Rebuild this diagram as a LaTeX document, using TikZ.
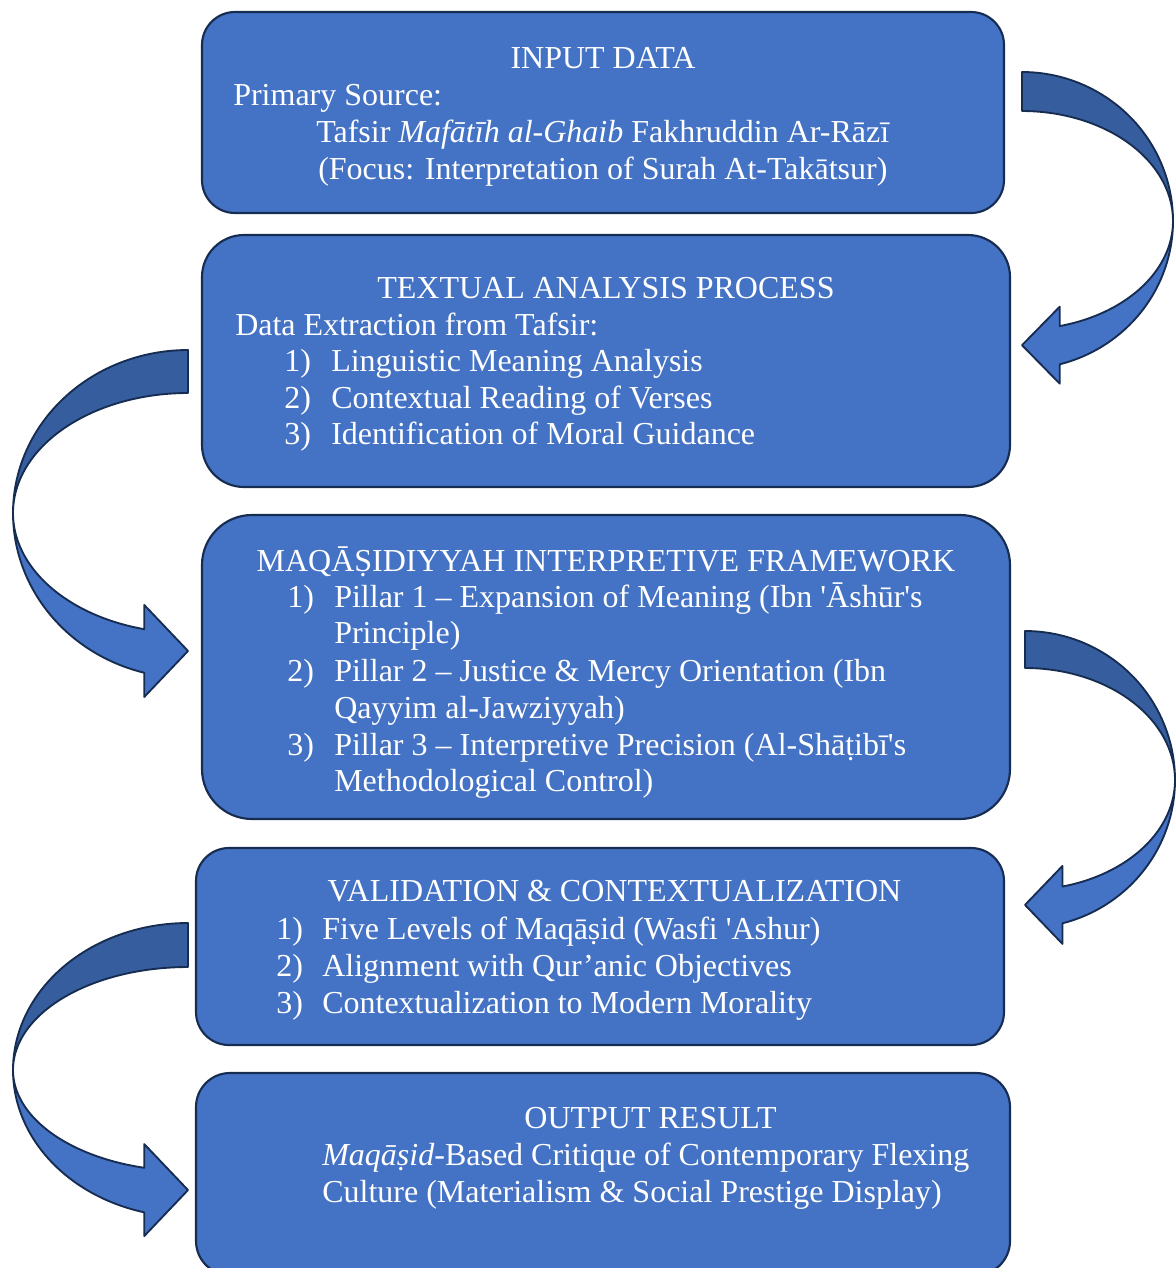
\documentclass[tikz,border=0pt]{standalone}
\usepackage{fontspec}
\setmainfont{Liberation Serif}[Ligatures=TeXOff]
\definecolor{boxblue}{RGB}{68,114,196}
\definecolor{boxline}{RGB}{23,44,81}
\definecolor{ribdark}{RGB}{54,94,158}
\tikzset{
  box/.style={draw=boxline, line width=1.6pt, fill=boxblue, inner sep=0pt},
  ribbondark/.style={draw=boxline, line width=1.4pt, fill=ribdark, line join=round},
  ribbonlight/.style={draw=boxline, line width=1.4pt, fill=boxblue, line join=round},
  txt/.style={text=white, inner sep=0pt, anchor=base west, font=\fontsize{24pt}{28pt}\selectfont},
  ttl/.style={txt, anchor=base},
}
% #1 direction (1 right, -1 left), #2 cx, #3 cy, #4 rx, #5 upper outer ry, #6 upper inner ry,
% #7 lower outer ry, #8 lower inner ry, #9 head half height
\newcommand\ribbonarrow[9]{%
  \pgfmathsetmacro\rbx{#2+#1*0.25*#4}%
  \pgfmathsetmacro\ryo{#3+#7*0.9682}%
  \pgfmathsetmacro\ryi{#3+#8*0.9682}%
  \pgfmathsetmacro\rym{(\ryo+\ryi)/2}%
  \pgfmathsetmacro\rhb{\rym+#9}%
  \pgfmathsetmacro\rht{\rym-#9}%
  \filldraw[ribbondark] plot[domain=-90:0, samples=60] ({#2+#1*#4*cos(\x)},{#3+#5*sin(\x)})
    -- plot[domain=0:90, samples=60] ({#2+#1*#4*cos(-\x)},{#3+#6*sin(-\x)}) -- cycle;
  \filldraw[ribbonlight] plot[domain=0:75.52, samples=60] ({#2+#1*#4*cos(\x)},{#3+#7*sin(\x)})
    -- (\rbx,\rhb) -- (#2,\rym) -- (\rbx,\rht)
    -- plot[domain=0:75.52, samples=60] ({#2+#1*#4*cos(75.52-\x)},{#3+#8*sin(75.52-\x)}) -- cycle;
}
\begin{document}
\begin{tikzpicture}[x=0.75pt, y=-0.75pt]
\useasboundingbox (0,0) rectangle (1176,1268);

% boxes
\node[box, minimum width=601.5pt, minimum height=150.75pt, rounded corners=24.75pt] (b1) at (603,112.5) {};
\node[box, minimum width=606pt, minimum height=189pt, rounded corners=31.5pt] (b2) at (606,361) {};
\node[box, minimum width=606pt, minimum height=228pt, rounded corners=37.5pt] (b3) at (606,667) {};
\node[box, minimum width=606pt, minimum height=147.75pt, rounded corners=24.75pt] (b4) at (600,946.5) {};
\node[box, minimum width=610.5pt, minimum height=151.5pt, rounded corners=25.5pt] (b5) at (603,1174) {};

% arrows
\ribbonarrow{1}{1022}{221}{151}{149}{110}{148}{108.5}{38.5}
\ribbonarrow{-1}{188}{513}{175}{163}{120}{165}{120}{46}
\ribbonarrow{1}{1025}{780}{150}{149}{112}{148}{110}{39}
\ribbonarrow{-1}{188}{1070}{175}{147}{103}{147}{101}{46}

% box 1 text
\node[ttl] (t1) at (603,68) {INPUT DATA};
\node[txt] (t1a) at (233,105) {Primary Source:};
\node[txt] (t1b) at (316,142) {Tafsir \textit{Mafātīh al-Ghaib} Fakhruddin Ar-Rāzī};
\node[txt] (t1c) at (318,179) {(Focus: Interpretation of Surah At-Takātsur)};

% box 2 text
\node[ttl] (t2) at (606,298) {TEXTUAL ANALYSIS PROCESS};
\node[txt] (t2a) at (235,335) {Data Extraction from Tafsir:};
\node[txt] (n21) at (284,371) {1)};
\node[txt] (t21) at (331,371) {Linguistic Meaning Analysis};
\node[txt] (n22) at (284,408) {2)};
\node[txt] (t22) at (331,408) {Contextual Reading of Verses};
\node[txt] (n23) at (284,444) {3)};
\node[txt] (t23) at (331,444) {Identification of Moral Guidance};

% box 3 text
\node[ttl] (t3) at (606,571) {MAQĀṢIDIYYAH INTERPRETIVE FRAMEWORK};
\node[txt] (n31) at (287,607) {1)};
\node[txt] (t31) at (334,607) {Pillar 1 – Expansion of Meaning (Ibn 'Āshūr's};
\node[txt] (t31b) at (334,643) {Principle)};
\node[txt] (n32) at (287,681) {2)};
\node[txt] (t32) at (334,681) {Pillar 2 – Justice \& Mercy Orientation (Ibn};
\node[txt] (t32b) at (334,718) {Qayyim al-Jawziyyah)};
\node[txt] (n33) at (287,755) {3)};
\node[txt] (t33) at (334,755) {Pillar 3 – Interpretive Precision (Al-Shāṭibī's};
\node[txt] (t33b) at (334,791) {Methodological Control)};

% box 4 text
\node[ttl] (t4) at (614.5,901) {VALIDATION \& CONTEXTUALIZATION};
\node[txt] (n41) at (276,939) {1)};
\node[txt] (t41) at (322,939) {Five Levels of Maqāṣid (Wasfi 'Ashur)};
\node[txt] (n42) at (276,976) {2)};
\node[txt] (t42) at (322,976) {Alignment with Qur’anic Objectives};
\node[txt] (n43) at (276,1013) {3)};
\node[txt] (t43) at (322,1013) {Contextualization to Modern Morality};

% box 5 text
\node[ttl] (t5) at (650.5,1128) {OUTPUT RESULT};
\node[txt] (t5a) at (322,1165) {\textit{Maqāṣid}-Based Critique of Contemporary Flexing};
\node[txt] (t5b) at (322,1202) {Culture (Materialism \& Social Prestige Display)};
\end{tikzpicture}
\end{document}
